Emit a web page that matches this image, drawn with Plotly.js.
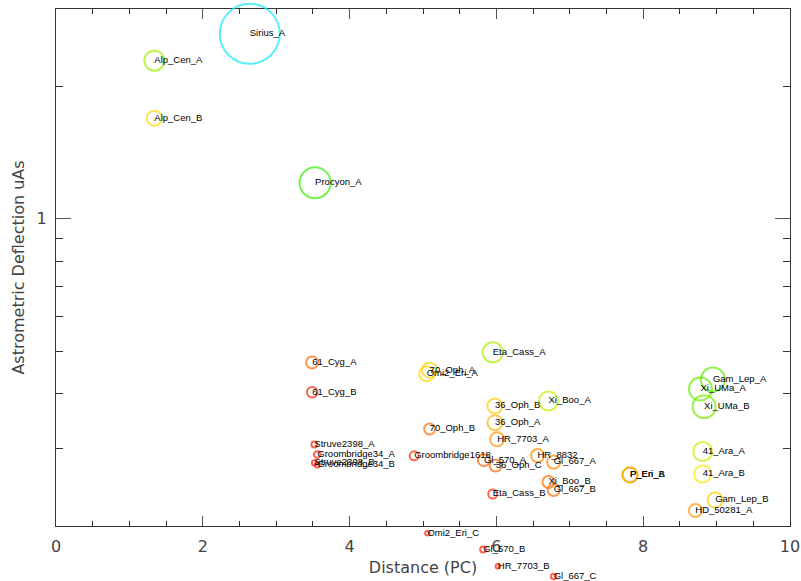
<!DOCTYPE html>
<html>
<head>
<meta charset="utf-8">
<script src="https://cdn.plot.ly/plotly-3.0.1.min.js"></script>
<style>
  html, body { margin: 0; padding: 0; background: #ffffff; }
  #chart { width: 801px; height: 581px; }
</style>
</head>
<body>
<div id="chart"></div>
<script>
// ---- data ----
const starNames = [
  "Sirius_A", "Alp_Cen_A", "Alp_Cen_B", "Procyon_A",
  "61_Cyg_A", "61_Cyg_B", "Struve2398_A", "Groombridge34_A",
  "Struve2398_B", "Groombridge34_B", "Groombridge1618",
  "Omi2_Eri_A", "70_Oph_A", "70_Oph_B", "Eta_Cass_A",
  "36_Oph_B", "36_Oph_A", "HR_7703_A", "Gl_570_A", "36_Oph_C",
  "HR_8832", "Gl_667_A", "Xi_Boo_A", "Xi_Boo_B", "Gl_667_B",
  "Eta_Cass_B", "P_Eri_A", "P_Eri_B", "Gam_Lep_A", "Xi_UMa_A",
  "Xi_UMa_B", "41_Ara_A", "41_Ara_B", "Gam_Lep_B", "HD_50281_A",
  "Omi2_Eri_C", "Gl_570_B", "HR_7703_B", "Gl_667_C"
];
const distancePc = [
  2.64, 1.34, 1.34, 3.53,
  3.49, 3.49, 3.52, 3.56,
  3.52, 3.56, 4.88,
  5.05, 5.09, 5.09, 5.95,
  5.98, 5.98, 6.01, 5.83, 5.99,
  6.56, 6.78, 6.71, 6.71, 6.78,
  5.95, 7.82, 7.82, 8.95, 8.78,
  8.83, 8.81, 8.81, 8.98, 8.71,
  5.06, 5.82, 6.02, 6.78
];
const deflectionUas = [
  2.634, 2.288, 1.693, 1.207,
  0.471, 0.403, 0.3065, 0.2908,
  0.2784, 0.2754, 0.2888,
  0.444, 0.452, 0.3323, 0.4966,
  0.375, 0.3436, 0.315, 0.2824, 0.2744,
  0.2892, 0.2795, 0.385, 0.2518, 0.2415,
  0.2365, 0.2613, 0.2613, 0.4308, 0.410,
  0.3737, 0.2954, 0.2627, 0.2291, 0.217,
  0.1926, 0.1768, 0.1619, 0.1535
];
const yTickValues = [1];
const yTickText = ["1"];
const yMinorValues = [0.3, 0.4, 0.5, 0.6, 0.7, 0.8, 0.9, 2];

// ---- styles ----
const markerSizes = [
  60, 20, 15, 31,
  12, 10.5, 6, 6.5,
  5, 5, 9,
  15, 15, 11, 20,
  15, 15, 14, 12, 12,
  13, 13, 19, 12, 12,
  9, 15, 15, 24, 23,
  23, 19, 17, 15, 13,
  4.5, 6, 4.5, 5.5
];
const markerColors = [
  "#10e8f8", "#a0ee00", "#ffd800", "#33ee00",
  "#ff6600", "#ff2800", "#ff2000", "#ff2000",
  "#ff1800", "#ff1800", "#ff2800",
  "#ffd800", "#ffd000", "#ff6c00", "#b0ee00",
  "#ffcc00", "#ffb000", "#ff9400", "#ff6000", "#ff6000",
  "#ff8c00", "#ff8400", "#ccee00", "#ff6a00", "#ff6a00",
  "#ff2000", "#ffa800", "#ffa800", "#55ee00", "#60ee00",
  "#77ee00", "#ccee00", "#eeee00", "#ffcc00", "#ff9400",
  "#ff2000", "#ff2000", "#ff2000", "#ff2000"
];

// ---- geometry of the frame ----
const W = 801, H = 581;
const M = { l: 56, r: 11, t: 9, b: 0 };
const axisBottomPx = 526;                 // where the visible x axis sits
const yLo = Math.log10(0.2), yHi = Math.log10(3);
const plotH = H - M.t - M.b;
const mainBottomFrac = (H - M.b - axisBottomPx) / plotH;
const mainSpanPx = plotH * (1 - mainBottomFrac);
const decadesPerPx = (yHi - yLo) / mainSpanPx;
const y2Lo = yLo - (plotH * mainBottomFrac) * decadesPerPx;

const frameTrace = { type: "scatter", mode: "markers", x: [], y: [], xaxis: "x", yaxis: "y", hoverinfo: "skip", showlegend: false };

const circles = {
  type: "scatter",
  mode: "markers",
  x: distancePc,
  y: deflectionUas,
  xaxis: "x2",
  yaxis: "y2",
  cliponaxis: false,
  hoverinfo: "skip",
  marker: {
    symbol: "circle-open",
    size: markerSizes,
    color: markerColors,
    line: { width: 2, color: markerColors }
  },
  showlegend: false
};

const labels = {
  type: "scatter",
  mode: "text",
  x: distancePc,
  y: deflectionUas,
  xaxis: "x2",
  yaxis: "y2",
  text: starNames,
  textposition: "middle right",
  cliponaxis: false,
  hoverinfo: "skip",
  textfont: { family: "Liberation Sans, Arial, sans-serif", size: 9.5, color: "#000000" },
  showlegend: false
};

const axisFont = { family: "DejaVu Sans, sans-serif", size: 16, color: "#444444" };

const layout = {
  width: W,
  height: H,
  margin: M,
  paper_bgcolor: "#ffffff",
  plot_bgcolor: "rgba(0,0,0,0)",
  showlegend: false,
  xaxis: {
    domain: [0, 1],
    anchor: "y",
    range: [0, 10],
    showgrid: false,
    zeroline: false,
    showline: true,
    linecolor: "#333333",
    linewidth: 1,
    mirror: "ticks",
    ticks: "inside",
    ticklen: 10,
    tickwidth: 1,
    tickcolor: "#555555",
    tick0: 0,
    dtick: 2,
    tickfont: axisFont,
    ticklabelstandoff: 6,
    minor: { dtick: 0.5, ticks: "inside", ticklen: 5, tickwidth: 1, tickcolor: "#333333", showgrid: false },
    title: { text: "Distance (PC)", font: axisFont, standoff: 6 }
  },
  yaxis: {
    domain: [mainBottomFrac, 1],
    anchor: "x",
    type: "log",
    range: [yLo, yHi],
    showgrid: false,
    zeroline: false,
    showline: true,
    linecolor: "#333333",
    linewidth: 1,
    mirror: "ticks",
    ticks: "inside",
    ticklen: 15,
    tickwidth: 1,
    tickcolor: "#555555",
    tickmode: "array",
    tickvals: yTickValues,
    ticktext: yTickText,
    tickfont: axisFont,
    ticklabelstandoff: 5,
    minor: {
      tickmode: "array",
      tickvals: yMinorValues,
      ticks: "inside", ticklen: 7, tickwidth: 1, tickcolor: "#333333", showgrid: false
    },
    title: { text: "Astrometric Deflection uAs", font: axisFont, standoff: 8 }
  },
  xaxis2: {
    domain: [0, 1], anchor: "y2", range: [0, 10], visible: false, fixedrange: true
  },
  yaxis2: {
    domain: [0, 1], anchor: "x2", type: "log", range: [y2Lo, yHi], visible: false, fixedrange: true
  }
};

Plotly.newPlot("chart", [frameTrace, circles, labels], layout, { displayModeBar: false, staticPlot: true });
</script>
</body>
</html>
